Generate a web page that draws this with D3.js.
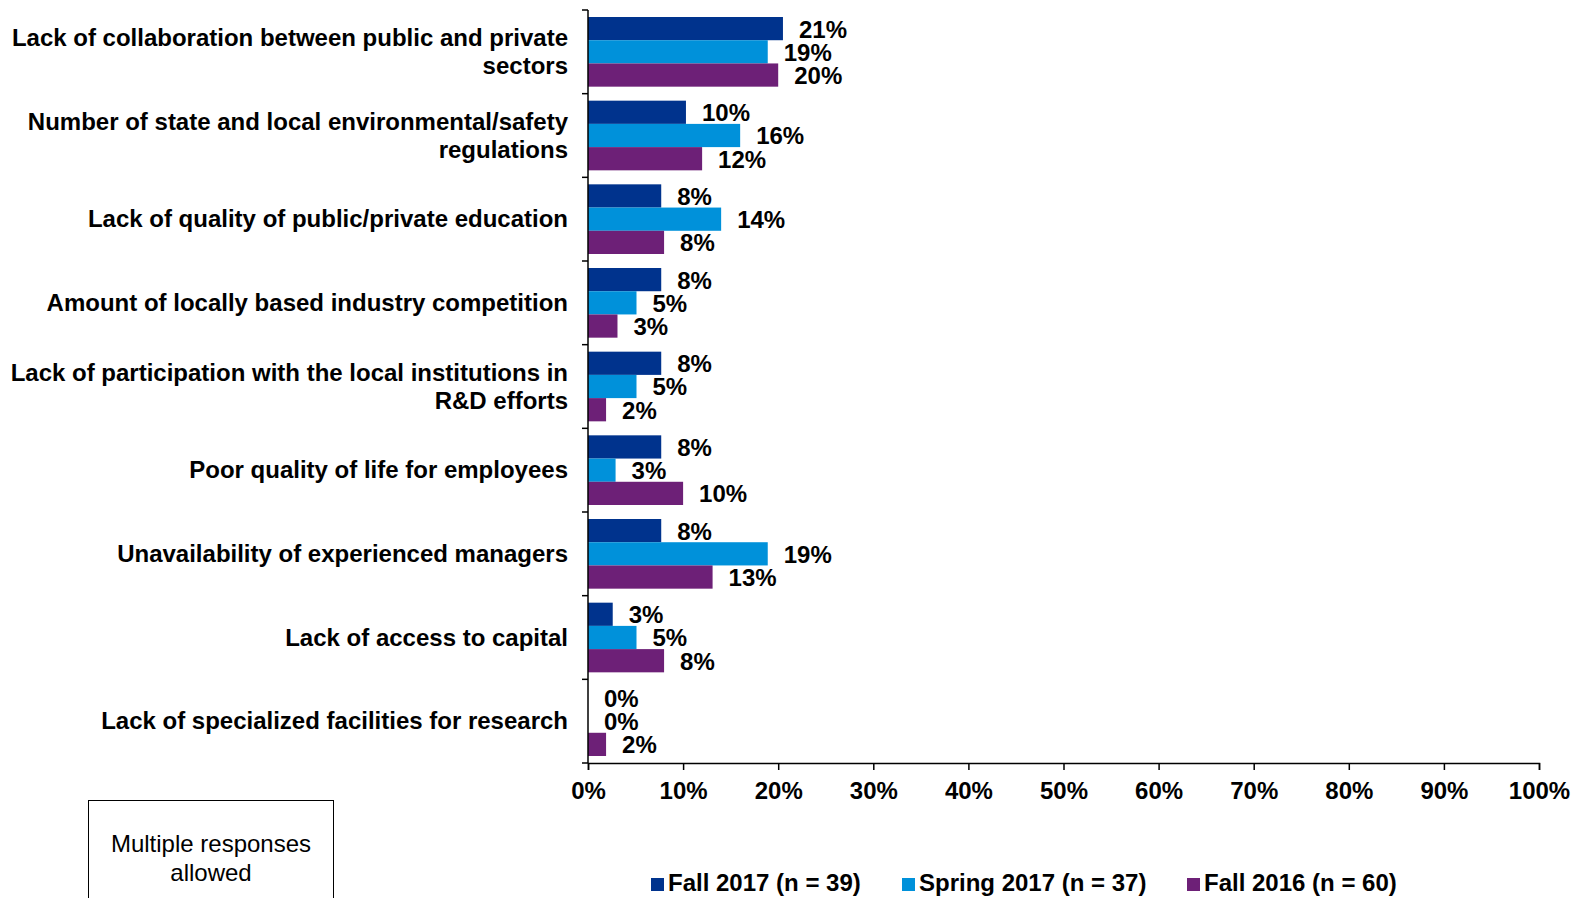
<!DOCTYPE html>
<html>
<head>
<meta charset="utf-8">
<script src="https://cdn.jsdelivr.net/npm/d3@7"></script>
<style>
    body { margin: 0; background: #fff; }
    text { font-family: Arial, "Liberation Sans", sans-serif; }
</style>
</head>
<body>
<div id="chart"></div>
<script>
// categories (top to bottom)
var categories = [
    "Lack of collaboration between public and private sectors",
    "Number of state and local environmental/safety regulations",
    "Lack of quality of public/private education",
    "Amount of locally based industry competition",
    "Lack of participation with the local institutions in R&D efforts",
    "Poor quality of life for employees",
    "Unavailability of experienced managers",
    "Lack of access to capital",
    "Lack of specialized facilities for research"
];

var seriesNames = ["Fall 2017 (n = 39)", "Spring 2017 (n = 37)", "Fall 2016 (n = 60)"];
var seriesColors = ["#00338D", "#0091DA", "#6D2077"];

// values in percent
var fall2017 = [20.5, 10.3, 7.7, 7.7, 7.7, 7.7, 7.7, 2.6, 0];
var spring2017 = [18.9, 16.0, 14.0, 5.1, 5.1, 2.9, 18.9, 5.1, 0];
var fall2016 = [20, 12, 8.0, 3.1, 1.9, 10, 13.1, 8.0, 1.9];

// labels shown next to the bars
var fall2017Labels = ["21%", "10%", "8%", "8%", "8%", "8%", "8%", "3%", "0%"];
var spring2017Labels = ["19%", "16%", "14%", "5%", "5%", "3%", "19%", "5%", "0%"];
var fall2016Labels = ["20%", "12%", "8%", "3%", "2%", "10%", "13%", "8%", "2%"];

var xTicks = [0, 10, 20, 30, 40, 50, 60, 70, 80, 90, 100];

var width = 1575,
    height = 898,
    plot = { left: 588, right: 1539, top: 10, bottom: 763 };

var svg = d3.select("#chart")
    .append("svg")
    .attr("width", width)
    .attr("height", height);

var allValues = [fall2017, spring2017, fall2016];
var allLabels = [fall2017Labels, spring2017Labels, fall2016Labels];

// scales
var xScale = d3.scaleLinear()
    .domain([0, 100])
    .range([plot.left, plot.right]);

var yScale = d3.scaleBand()
    .domain(categories)
    .range([plot.top, plot.bottom]);

var ySub = d3.scaleBand()
    .domain([0, 1, 2])
    .range([7, yScale.bandwidth() - 7]);

// bars + labels
categories.forEach(function(cat, i) {
    var g = svg.append("g")
        .attr("transform", "translate(0," + yScale(cat) + ")");
    allValues.forEach(function(vals, s) {
        if (vals[i] > 0) {
            g.append("rect")
                .attr("x", xScale(0))
                .attr("y", ySub(s))
                .attr("width", xScale(vals[i]) - xScale(0))
                .attr("height", ySub.bandwidth())
                .attr("fill", seriesColors[s]);
        }
        g.append("text")
            .attr("x", xScale(vals[i]) + 16)
            .attr("y", ySub(s) + ySub.bandwidth() / 2 + 9)
            .attr("font-size", "24px")
            .attr("font-weight", "bold")
            .attr("fill", "#000")
            .text(allLabels[s][i]);
    });
});

// x axis
var xAxis = d3.axisBottom(xScale)
    .tickValues(xTicks)
    .tickSize(7)
    .tickFormat(function(d) { return d + "%"; });
var gx = svg.append("g")
    .attr("transform", "translate(0," + plot.bottom + ")")
    .call(xAxis);
gx.select(".domain").attr("stroke", "#000").attr("stroke-width", 1.5);
gx.selectAll(".tick line").attr("stroke", "#000").attr("stroke-width", 1.5);
gx.selectAll(".tick text")
    .attr("y", 36)
    .attr("dy", null)
    .attr("font-size", "24px")
    .attr("font-weight", "bold")
    .attr("font-family", "Arial, 'Liberation Sans', sans-serif")
    .attr("fill", "#000");

// y axis (ticks between categories)
svg.append("line")
    .attr("x1", plot.left).attr("x2", plot.left)
    .attr("y1", plot.top).attr("y2", plot.bottom)
    .attr("stroke", "#000").attr("stroke-width", 1.5);
var boundaries = categories.map(function(c) { return yScale(c); }).concat([plot.bottom]);
svg.selectAll(".ytick")
    .data(boundaries)
    .enter().append("line")
    .attr("class", "ytick")
    .attr("x1", plot.left - 6).attr("x2", plot.left)
    .attr("y1", function(d) { return d; })
    .attr("y2", function(d) { return d; })
    .attr("stroke", "#000").attr("stroke-width", 1.5);

// category labels, wrapped to fit left of the axis
var lineHeight = 28;
categories.forEach(function(cat) {
    var t = svg.append("text")
        .attr("text-anchor", "end")
        .attr("font-size", "24px")
        .attr("font-weight", "bold")
        .attr("fill", "#000");
    var words = cat.split(" "), lines = [], line = [];
    words.forEach(function(w) {
        line.push(w);
        t.text(line.join(" "));
        if (t.node().getComputedTextLength() > 565 && line.length > 1) {
            line.pop();
            lines.push(line.join(" "));
            line = [w];
        }
    });
    lines.push(line.join(" "));
    t.text(null);
    var cy = yScale(cat) + yScale.bandwidth() / 2;
    var y0 = cy - (lines.length - 1) * lineHeight / 2 + 8;
    lines.forEach(function(l, k) {
        t.append("tspan")
            .attr("x", 568)
            .attr("y", y0 + k * lineHeight)
            .text(l);
    });
});

// note box
svg.append("rect")
    .attr("x", 88.5).attr("y", 800.5)
    .attr("width", 245).attr("height", 120)
    .attr("fill", "none")
    .attr("stroke", "#000")
    .attr("stroke-width", 1);
svg.append("text")
    .attr("x", 211).attr("y", 852)
    .attr("text-anchor", "middle")
    .attr("font-size", "24px")
    .text("Multiple responses");
svg.append("text")
    .attr("x", 211).attr("y", 881)
    .attr("text-anchor", "middle")
    .attr("font-size", "24px")
    .text("allowed");

// legend
var legendX = [651, 902, 1187];
var legend = svg.selectAll(".legend")
    .data(seriesNames)
    .enter().append("g")
    .attr("class", "legend")
    .attr("transform", function(d, i) { return "translate(" + legendX[i] + ",878)"; });
legend.append("rect")
    .attr("width", 13)
    .attr("height", 13)
    .attr("fill", function(d, i) { return seriesColors[i]; });
legend.append("text")
    .attr("x", 17)
    .attr("y", 13)
    .attr("font-size", "24px")
    .attr("font-weight", "bold")
    .attr("fill", "#000")
    .text(function(d) { return d; });
</script>
</body>
</html>
